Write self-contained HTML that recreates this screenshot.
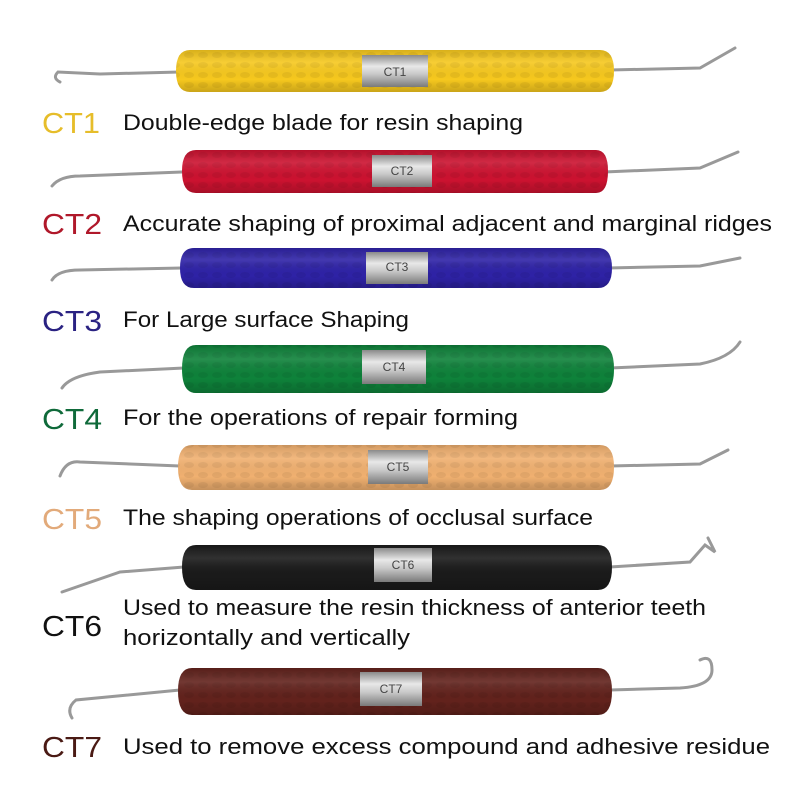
<!DOCTYPE html>
<html><head><meta charset="utf-8"><style>
html,body{margin:0;padding:0;background:#fff;}
svg{display:block}
text{font-family:"Liberation Sans",sans-serif;}
</style></head><body>
<svg width="800" height="800" viewBox="0 0 800 800" xmlns="http://www.w3.org/2000/svg">
<defs>
<linearGradient id="band" x1="0" y1="0" x2="0" y2="1">
<stop offset="0" stop-color="#8a8a8a"/><stop offset="0.35" stop-color="#e8e8e8"/><stop offset="0.6" stop-color="#c8c8c8"/><stop offset="1" stop-color="#7a7a7a"/></linearGradient>
<linearGradient id="shade" x1="0" y1="0" x2="0" y2="1">
<stop offset="0" stop-color="#000" stop-opacity="0.12"/><stop offset="0.3" stop-color="#fff" stop-opacity="0.1"/><stop offset="0.7" stop-color="#000" stop-opacity="0"/><stop offset="1" stop-color="#000" stop-opacity="0.18"/></linearGradient>
<pattern id="tex" width="14" height="10" patternUnits="userSpaceOnUse"><ellipse cx="7" cy="5" rx="5" ry="3" fill="#000" fill-opacity="0.06"/></pattern>
</defs>
<g id="tools" stroke-linecap="round" fill="none">
<g>
<path d="M60 82 Q52 78 58 72 L100 74 L180 72" stroke="#999" stroke-width="3"/>
<path d="M610 70 L700 68 L735 48" stroke="#999" stroke-width="3"/>
<path d="M190 50 H600 Q614 50 614 71 Q614 92 600 92 H190 Q176 92 176 71 Q176 50 190 50Z" fill="#f6c81e"/>
<path d="M190 50 H600 Q614 50 614 71 Q614 92 600 92 H190 Q176 92 176 71 Q176 50 190 50Z" fill="url(#tex)"/>
<path d="M190 50 H600 Q614 50 614 71 Q614 92 600 92 H190 Q176 92 176 71 Q176 50 190 50Z" fill="url(#shade)"/>
<rect x="362" y="55" width="66" height="32" fill="url(#band)"/>
<text x="395" y="76" font-size="12" fill="#444" text-anchor="middle" stroke="none">CT1</text>
</g>
<g>
<path d="M52 186 Q60 176 80 176 L182 172" stroke="#999" stroke-width="3"/>
<path d="M604 172 L700 168 L738 152" stroke="#999" stroke-width="3"/>
<path d="M196 150 H596 Q608 150 608 171 Q608 193 596 193 H196 Q182 193 182 171 Q182 150 196 150Z" fill="#cc1230"/>
<path d="M196 150 H596 Q608 150 608 171 Q608 193 596 193 H196 Q182 193 182 171 Q182 150 196 150Z" fill="url(#tex)"/>
<path d="M196 150 H596 Q608 150 608 171 Q608 193 596 193 H196 Q182 193 182 171 Q182 150 196 150Z" fill="url(#shade)"/>
<rect x="372" y="155" width="60" height="32" fill="url(#band)"/>
<text x="402" y="175" font-size="12" fill="#444" text-anchor="middle" stroke="none">CT2</text>
</g>
<g>
<path d="M52 280 Q58 270 80 270 L182 268" stroke="#999" stroke-width="3"/>
<path d="M608 268 L700 266 L740 258" stroke="#999" stroke-width="3"/>
<path d="M194 248 H598 Q612 248 612 268 Q612 288 598 288 H194 Q180 288 180 268 Q180 248 194 248Z" fill="#2e22a6"/>
<path d="M194 248 H598 Q612 248 612 268 Q612 288 598 288 H194 Q180 288 180 268 Q180 248 194 248Z" fill="url(#tex)"/>
<path d="M194 248 H598 Q612 248 612 268 Q612 288 598 288 H194 Q180 288 180 268 Q180 248 194 248Z" fill="url(#shade)"/>
<rect x="366" y="252" width="62" height="32" fill="url(#band)"/>
<text x="397" y="271" font-size="12" fill="#444" text-anchor="middle" stroke="none">CT3</text>
</g>
<g>
<path d="M62 388 Q70 376 100 372 L184 368" stroke="#999" stroke-width="3"/>
<path d="M610 368 L700 364 Q730 358 740 342" stroke="#999" stroke-width="3"/>
<path d="M196 345 H600 Q614 345 614 369 Q614 393 600 393 H196 Q182 393 182 369 Q182 345 196 345Z" fill="#0e823a"/>
<path d="M196 345 H600 Q614 345 614 369 Q614 393 600 393 H196 Q182 393 182 369 Q182 345 196 345Z" fill="url(#tex)"/>
<path d="M196 345 H600 Q614 345 614 369 Q614 393 600 393 H196 Q182 393 182 369 Q182 345 196 345Z" fill="url(#shade)"/>
<rect x="362" y="350" width="64" height="34" fill="url(#band)"/>
<text x="394" y="371" font-size="12" fill="#444" text-anchor="middle" stroke="none">CT4</text>
</g>
<g>
<path d="M60 476 Q66 460 80 462 L180 466" stroke="#999" stroke-width="3"/>
<path d="M610 466 L700 464 L728 450" stroke="#999" stroke-width="3"/>
<path d="M192 445 H600 Q614 445 614 467 Q614 490 600 490 H192 Q178 490 178 467 Q178 445 192 445Z" fill="#f0b070"/>
<path d="M192 445 H600 Q614 445 614 467 Q614 490 600 490 H192 Q178 490 178 467 Q178 445 192 445Z" fill="url(#tex)"/>
<path d="M192 445 H600 Q614 445 614 467 Q614 490 600 490 H192 Q178 490 178 467 Q178 445 192 445Z" fill="url(#shade)"/>
<rect x="368" y="450" width="60" height="34" fill="url(#band)"/>
<text x="398" y="471" font-size="12" fill="#444" text-anchor="middle" stroke="none">CT5</text>
</g>
<g>
<path d="M62 592 L120 572 L184 567" stroke="#999" stroke-width="3"/>
<path d="M610 567 L690 562 L705 545 L715 552 L708 538" stroke="#999" stroke-width="3"/>
<path d="M196 545 H598 Q612 545 612 567 Q612 590 598 590 H196 Q182 590 182 567 Q182 545 196 545Z" fill="#1a1a1a"/>
<path d="M196 545 H598 Q612 545 612 567 Q612 590 598 590 H196 Q182 590 182 567 Q182 545 196 545Z" fill="url(#shade)"/>
<rect x="374" y="548" width="58" height="34" fill="url(#band)"/>
<text x="403" y="569" font-size="12" fill="#444" text-anchor="middle" stroke="none">CT6</text>
</g>
<g>
<path d="M72 718 Q66 708 76 700 L180 690" stroke="#999" stroke-width="3"/>
<path d="M610 690 L680 688 Q712 686 712 670 Q712 654 700 660" stroke="#999" stroke-width="3"/>
<path d="M192 668 H598 Q612 668 612 691 Q612 715 598 715 H192 Q178 715 178 691 Q178 668 192 668Z" fill="#62221c"/>
<path d="M192 668 H598 Q612 668 612 691 Q612 715 598 715 H192 Q178 715 178 691 Q178 668 192 668Z" fill="url(#tex)"/>
<path d="M192 668 H598 Q612 668 612 691 Q612 715 598 715 H192 Q178 715 178 691 Q178 668 192 668Z" fill="url(#shade)"/>
<rect x="360" y="672" width="62" height="34" fill="url(#band)"/>
<text x="391" y="693" font-size="12" fill="#444" text-anchor="middle" stroke="none">CT7</text>
</g>
</g>
<g font-size="29" lengthAdjust="spacingAndGlyphs">
<text x="42" y="133" fill="#e6bd2a" textLength="58" lengthAdjust="spacingAndGlyphs">CT1</text>
<text x="42" y="234" fill="#b0182a" textLength="60" lengthAdjust="spacingAndGlyphs">CT2</text>
<text x="42" y="331" fill="#2a2282" textLength="60" lengthAdjust="spacingAndGlyphs">CT3</text>
<text x="42" y="429" fill="#0f6a3a" textLength="60" lengthAdjust="spacingAndGlyphs">CT4</text>
<text x="42" y="529" fill="#e2aa7a" textLength="60" lengthAdjust="spacingAndGlyphs">CT5</text>
<text x="42" y="636" fill="#111" textLength="60" lengthAdjust="spacingAndGlyphs">CT6</text>
<text x="42" y="757" fill="#4a1a14" textLength="60" lengthAdjust="spacingAndGlyphs">CT7</text>
</g>
<g font-size="22" fill="#111">
<text x="123" y="130" textLength="400" lengthAdjust="spacingAndGlyphs">Double-edge blade for resin shaping</text>
<text x="123" y="231" textLength="649" lengthAdjust="spacingAndGlyphs">Accurate shaping of proximal adjacent and marginal ridges</text>
<text x="123" y="327" textLength="286" lengthAdjust="spacingAndGlyphs">For Large surface Shaping</text>
<text x="123" y="425" textLength="395" lengthAdjust="spacingAndGlyphs">For the operations of repair forming</text>
<text x="123" y="525" textLength="470" lengthAdjust="spacingAndGlyphs">The shaping operations of occlusal surface</text>
<text x="123" y="615" textLength="583" lengthAdjust="spacingAndGlyphs">Used to measure the resin thickness of anterior teeth</text>
<text x="123" y="645" textLength="287" lengthAdjust="spacingAndGlyphs">horizontally and vertically</text>
<text x="123" y="754" textLength="647" lengthAdjust="spacingAndGlyphs">Used to remove excess compound and adhesive residue</text>
</g>
</svg>
</body></html>
